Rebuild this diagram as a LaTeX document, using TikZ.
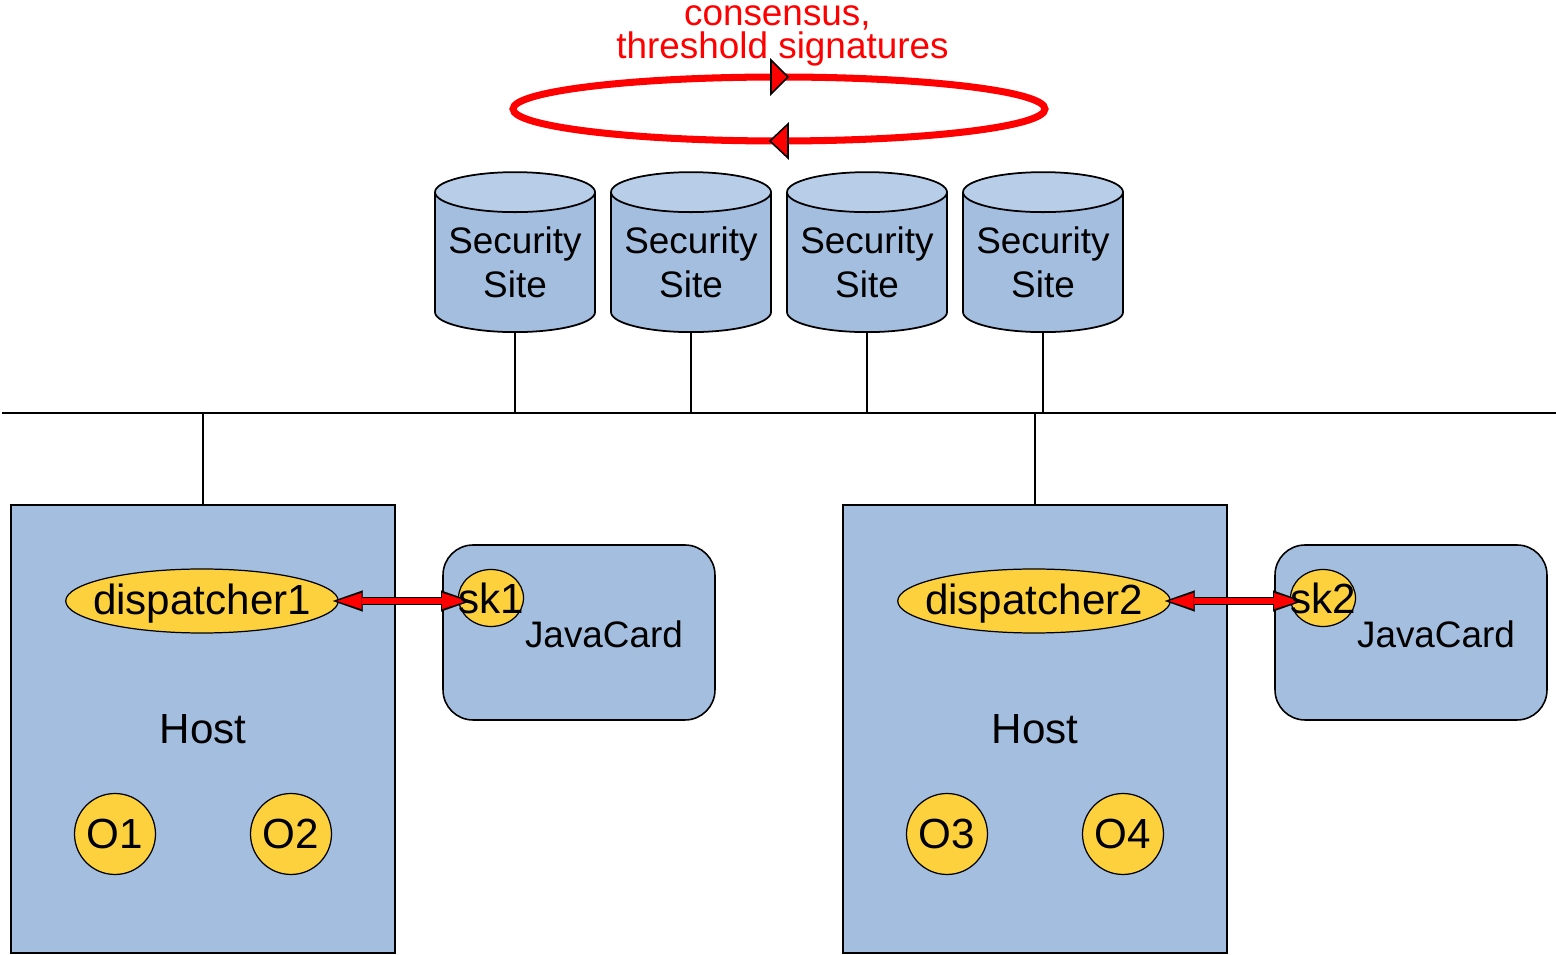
\documentclass[tikz,border=0pt]{standalone}
\usepackage{fontspec}
\setmainfont{Liberation Sans}
\usetikzlibrary{shapes.geometric, arrows.meta, calc}

\definecolor{boxblue}{HTML}{A4BEDF}
\definecolor{capblue}{HTML}{B7CDE8}
\definecolor{gold}{HTML}{FDD13E}
\newcommand{\sitefont}{\fontsize{21}{25}\selectfont}
\newcommand{\hostfont}{\fontsize{24}{28}\selectfont}

\begin{document}
\begin{tikzpicture}[x=0.02cm, y=-0.02cm,
		wire/.style={line width=0.9pt},
		site/.style={draw, line width=1pt, cylinder, shape border rotate=90, aspect=0.3, minimum width=3.2cm, minimum height=3.2cm, inner sep=0pt, cylinder uses custom fill, cylinder body fill=boxblue, cylinder end fill=capblue, align=center, font=\sitefont, anchor=south},
		host/.style={draw, rectangle, line width=0.9pt, fill=boxblue, minimum width=7.68cm, minimum height=8.96cm, font=\hostfont},
		card/.style={draw, rectangle, line width=0.9pt, rounded corners=0.6cm, fill=boxblue, minimum width=5.44cm, minimum height=3.5cm},
		disp/.style={draw, ellipse, line width=0.7pt, fill=gold, minimum width=5.44cm, minimum height=1.28cm, inner xsep=-7.2pt, inner ysep=-1pt, text height=20.5pt, text depth=5pt, font=\hostfont},
		skey/.style={draw, ellipse, line width=0.7pt, fill=gold, minimum width=1.3cm, minimum height=1.14cm, inner sep=0pt},
		obj/.style={draw, circle, line width=0.7pt, fill=gold, minimum size=1.62cm, inner sep=0pt, font=\hostfont},
		ring/.style={draw=red, ellipse, line width=4pt, minimum width=10.64cm, minimum height=1.28cm, inner sep=0pt, outer sep=0pt},
		ringtip/.style={draw=black, fill=red, line width=0.9pt, line join=miter},
		linkbg/.style={black, line width=5.1pt, shorten <=-3.4pt, shorten >=-7.4pt, {Triangle[length=17pt, width=12pt, line width=0.1pt]}-{Triangle[length=17pt, width=12pt, line width=0.1pt]}},
		linkfg/.style={red, line width=3.4pt, shorten <=-1pt, shorten >=-5pt, {Triangle[length=14pt, width=9.2pt, line width=0.1pt]}-{Triangle[length=14pt, width=9.2pt, line width=0.1pt]}}
	]
	\useasboundingbox (0,0) rectangle (1556,955);

	\node[ring] (ring) at (779,109) {};
	\draw[ringtip] ($(ring.north)+(-8,-17)$) -- ++(17,17) -- ++(-17,17) -- cycle;
	\draw[ringtip] ($(ring.south)+(9,-17)$) -- ++(-18,17) -- ++(18,17) -- cycle;
	\node[red, align=center, inner sep=0pt, anchor=south, font=\fontsize{21}{19}\selectfont] (ring_lbl) at (782.5,67) {consensus,\phantom{\ }\\threshold signatures};

	\foreach \i/\x in {1/515, 2/691, 3/867, 4/1043}
		\node[site] (site\i) at (\x,333) {Security\\Site};

	\coordinate (bus_w) at (2,413);
	\coordinate (bus_e) at (1556,413);
	\draw[wire] (bus_w) -- (bus_e);
	\foreach \i in {1,...,4}
		\draw[wire] (site\i.south) -- (site\i.south |- bus_w);

	\node[host] (h1) at (203,729) {Host};
	\node[host] (h2) at (1035,729) {Host};
	\draw[wire] (h1.north) -- (h1.north |- bus_w);
	\draw[wire] (h2.north) -- (h2.north |- bus_w);

	\node[card, label={[font=\sitefont, xshift=0.5cm, yshift=-0.04cm]center:JavaCard}] (jc1) at (579,632.5) {};
	\node[card, label={[font=\sitefont, xshift=0.5cm, yshift=-0.04cm]center:JavaCard}] (jc2) at (1411,632.5) {};

	\node[disp] (h1_disp) at (202,601) {dispatcher1};
	\node[disp] (h2_disp) at (1034,601) {dispatcher2};
	\node[skey] (jc1_sk) at (491,598) {};
	\node[skey] (jc2_sk) at (1323,598) {};

	\draw[linkbg] (h1_disp.east) -- (h1_disp.east -| jc1_sk.west);
	\draw[linkfg] (h1_disp.east) -- (h1_disp.east -| jc1_sk.west);
	\draw[linkbg] (h2_disp.east) -- (h2_disp.east -| jc2_sk.west);
	\draw[linkfg] (h2_disp.east) -- (h2_disp.east -| jc2_sk.west);

	\node[font=\hostfont, inner sep=0pt] (jc1_sk_txt) at (jc1_sk) {sk1};
	\node[font=\hostfont, inner sep=0pt] (jc2_sk_txt) at (jc2_sk) {sk2};

	\node[obj] (h1_o1) at (115,834) {O1};
	\node[obj] (h1_o2) at (291,834) {O2};
	\node[obj] (h2_o3) at (947,834) {O3};
	\node[obj] (h2_o4) at (1123,834) {O4};
\end{tikzpicture}
\end{document}
